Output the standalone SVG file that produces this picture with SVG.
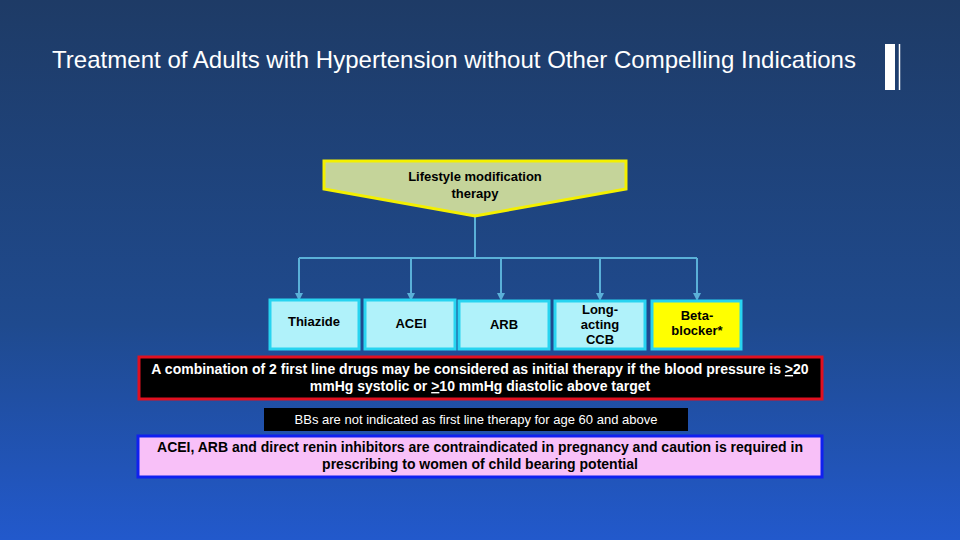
<svg xmlns="http://www.w3.org/2000/svg" width="960" height="540" viewBox="0 0 960 540">
<defs>
<linearGradient id="bg" x1="0" y1="0" x2="0" y2="1"><stop offset="0" stop-color="#1e3b66"/><stop offset="0.6" stop-color="#1f4a8e"/><stop offset="1" stop-color="#2259cc"/></linearGradient>
<marker id="ar" markerWidth="8" markerHeight="8" refX="4" refY="4" orient="auto" markerUnits="userSpaceOnUse"><path d="M0,0 L8,4 L0,8 z" fill="#5ab0d8"/></marker>
<style>
text{font-family:"Liberation Sans",Arial,sans-serif;font-weight:bold;font-size:13px;text-anchor:middle;fill:#000}
.drug{fill:#b0f2fa;stroke:#28d4f0;stroke-width:3}
.c{stroke:#5ab0d8;stroke-width:2;fill:none}
.n{font-size:14px}
</style>
</defs>
<rect width="960" height="540" fill="url(#bg)"/>
<text x="52" y="68" style="font-weight:normal;font-size:24px;text-anchor:start;fill:#fff" textLength="804">Treatment of Adults with Hypertension without Other Compelling Indications</text>
<rect x="885" y="44" width="10" height="46" fill="#fff"/>
<line x1="899.5" y1="44" x2="899.5" y2="90" stroke="#fff" stroke-width="1.5"/>
<g id="connectors">
<path class="c" d="M475,217 V258 M299,258 H697"/>
<path class="c" marker-end="url(#ar)" d="M299,258 V297"/>
<path class="c" marker-end="url(#ar)" d="M411,258 V297"/>
<path class="c" marker-end="url(#ar)" d="M501,258 V297"/>
<path class="c" marker-end="url(#ar)" d="M600,258 V297"/>
<path class="c" marker-end="url(#ar)" d="M697,258 V297"/>
</g>
<g id="lifestyle"><path d="M324,161 H626 V189 L475,216 L324,189 Z" fill="#c5d49a" stroke="#f4f000" stroke-width="3"/>
<text x="475" y="181">Lifestyle modification</text><text x="475" y="198">therapy</text></g>
<g id="thiazide"><rect class="drug" x="270" y="300" width="89" height="49"/><text x="314" y="326">Thiazide</text></g>
<g id="acei"><rect class="drug" x="365" y="300" width="90" height="49"/><text x="411" y="328">ACEI</text></g>
<g id="arb"><rect class="drug" x="459" y="301" width="90" height="48"/><text x="504" y="329">ARB</text></g>
<g id="ccb"><rect class="drug" x="555" y="301" width="90" height="48"/><text x="600" y="314">Long-</text><text x="600" y="329">acting</text><text x="600" y="344">CCB</text></g>
<g id="bb"><rect x="652" y="301" width="89" height="48" fill="#ffff00" stroke="#28d4f0" stroke-width="3"/><text x="697" y="320">Beta-</text><text x="697" y="335">blocker*</text></g>
<g id="combo"><rect x="139" y="357" width="683" height="42" fill="#000" stroke="#e01020" stroke-width="3"/>
<text class="n" x="480" y="374" style="fill:#fff">A combination of 2 first line drugs may be considered as initial therapy if the blood pressure is <tspan text-decoration="underline">&gt;</tspan>20</text>
<text class="n" x="480" y="391" style="fill:#fff">mmHg systolic or <tspan text-decoration="underline">&gt;</tspan>10 mmHg diastolic above target</text></g>
<g id="bbnote"><rect x="264" y="408" width="424" height="23" fill="#000"/><text x="476" y="424" style="fill:#fff;font-weight:normal;font-size:13px">BBs are not indicated as first line therapy for age 60 and above</text></g>
<g id="preg"><rect x="138" y="436" width="684" height="41" fill="#f8c0f8" stroke="#1020f0" stroke-width="3"/>
<text class="n" x="480" y="452">ACEI, ARB and direct renin inhibitors are contraindicated in pregnancy and caution is required in</text>
<text class="n" x="480" y="469">prescribing to women of child bearing potential</text></g>
</svg>
